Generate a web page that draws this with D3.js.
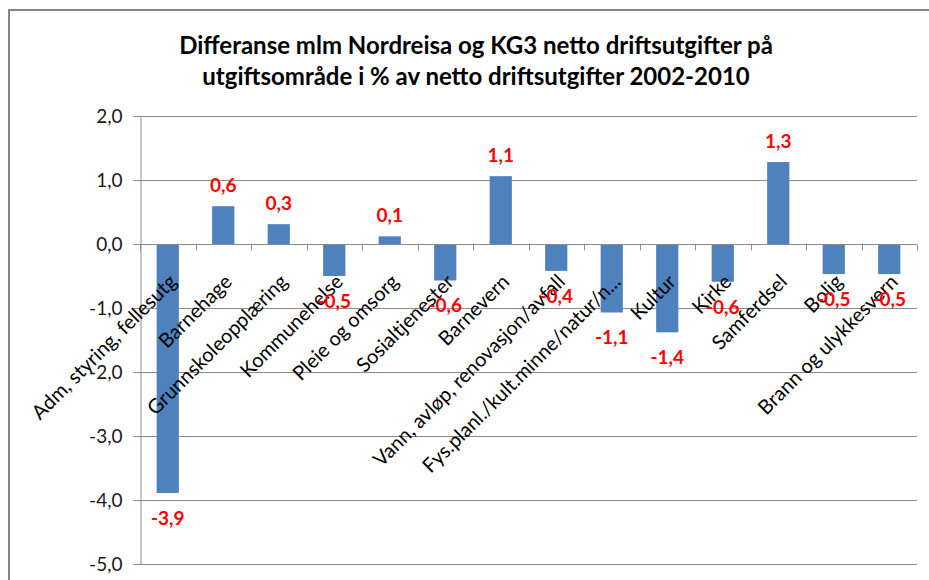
<!DOCTYPE html>
<html>
<head>
<meta charset="utf-8">
<script src="https://cdn.jsdelivr.net/npm/d3@7"></script>
<style>
  body { margin: 0; background: #fff; }
  svg { display: block; font-family: Lato, "Open Sans", sans-serif; }
</style>
</head>
<body>
<svg id="chart" width="929" height="580"></svg>
<script>
/******************** Data ********************/
var titleLines = [
    "Differanse mlm Nordreisa og KG3 netto driftsutgifter på",
    "utgiftsområde i % av netto driftsutgifter 2002-2010"
];

var categories = [
    "Adm, styring, fellesutg",
    "Barnehage",
    "Grunnskoleopplæring",
    "Kommunehelse",
    "Pleie og omsorg",
    "Sosialtjenester",
    "Barnevern",
    "Vann, avløp, renovasjon/avfall",
    "Fys.planl./kult.minne/natur/n...",
    "Kultur",
    "Kirke",
    "Samferdsel",
    "Bolig",
    "Brann og ulykkesvern"
];

var values = [-3.89, 0.59, 0.31, -0.50, 0.12, -0.57, 1.06, -0.42, -1.07, -1.38, -0.59, 1.28, -0.47, -0.47];

var yTicks = [2, 1, 0, -1, -2, -3, -4, -5];

/******************** Setup ********************/
var W = 929, H = 580;
var plot = {left: 140, right: 917, top: 116, bottom: 564};

var no = d3.formatLocale({decimal: ",", thousands: " ", grouping: [3], currency: ["", " kr"], minus: "-"});
var fmt = no.format(".1f");

var svg = d3.select("#chart");

svg.append("rect").attr("width", W).attr("height", H).attr("fill", "#fff");

// chart border (runs off the right / bottom of the picture)
svg.append("rect")
    .attr("x", 9).attr("y", 10)
    .attr("width", W + 20).attr("height", H + 20)
    .attr("fill", "none")
    .attr("stroke", "#868686")
    .attr("stroke-width", 2);

/******************** Title ********************/
svg.append("g").selectAll("text")
    .data(titleLines)
    .join("text")
    .attr("x", 476)
    .attr("y", function(d, i){ return 54 + i * 31; })
    .attr("text-anchor", "middle")
    .style("font-size", "24px")
    .style("font-weight", "bold")
    .attr("fill", "#000")
    .text(function(d){ return d; });

/******************** Scales ********************/
var x = d3.scaleBand()
    .domain(categories)
    .range([plot.left, plot.right])
    .paddingInner(0.6)
    .paddingOuter(0.3);

var y = d3.scaleLinear()
    .domain([-5, 2])
    .range([plot.bottom, plot.top]);

/******************** Grid + y axis ********************/
svg.append("g").selectAll("line")
    .data(yTicks)
    .join("line")
    .attr("x1", plot.left).attr("x2", plot.right)
    .attr("y1", function(d){ return Math.round(y(d)) + 0.5; })
    .attr("y2", function(d){ return Math.round(y(d)) + 0.5; })
    .attr("stroke", "#8c8c8c")
    .attr("stroke-width", 1);

var yAxis = svg.append("g")
    .attr("transform", "translate(" + (plot.left + 0.5) + ",0)")
    .call(d3.axisLeft(y).tickValues(yTicks).tickFormat(fmt).tickSizeInner(7).tickSizeOuter(0).tickPadding(11));

yAxis.selectAll("path, line").attr("stroke", "#8c8c8c");
yAxis.selectAll("text")
    .style("font-size", "19px")
    .style("font-family", "Lato, sans-serif")
    .attr("fill", "#1a1a1a");

/******************** Bars ********************/
svg.append("g").selectAll("rect")
    .data(values)
    .join("rect")
    .attr("x", function(d, i){ return x(categories[i]); })
    .attr("width", x.bandwidth())
    .attr("y", function(d){ return y(Math.max(0, d)); })
    .attr("height", function(d){ return Math.abs(y(d) - y(0)); })
    .attr("fill", "#4f81bd");

/******************** X axis (at zero) ********************/
var zeroY = Math.round(y(0)) + 0.5;
var step = x.step();
var bounds = d3.range(categories.length + 1);

svg.append("line")
    .attr("x1", plot.left).attr("x2", plot.right)
    .attr("y1", zeroY).attr("y2", zeroY)
    .attr("stroke", "#8c8c8c");

svg.append("g").selectAll("line")
    .data(bounds)
    .join("line")
    .attr("x1", function(i){ return Math.round(plot.left + i * step) + 0.5; })
    .attr("x2", function(i){ return Math.round(plot.left + i * step) + 0.5; })
    .attr("y1", zeroY).attr("y2", zeroY + 6)
    .attr("stroke", "#8c8c8c");

// category labels, rotated
svg.append("g").selectAll("text")
    .data(categories)
    .join("text")
    .attr("transform", function(d){
        var cx = x(d) + x.bandwidth() / 2;
        return "translate(" + (cx + 10) + "," + (y(0) + 39) + ") rotate(-45)";
    })
    .attr("text-anchor", "end")
    .style("font-size", "20px")
    .attr("fill", "#000")
    .text(function(d){ return d; });

/******************** Data labels ********************/
svg.append("g").selectAll("text")
    .data(values)
    .join("text")
    .attr("x", function(d, i){ return x(categories[i]) + x.bandwidth() / 2; })
    .attr("y", function(d){ return d >= 0 ? y(d) - 14 : y(d) + 32; })
    .attr("text-anchor", "middle")
    .style("font-size", "19px")
    .style("font-weight", "bold")
    .attr("fill", "#ff0000")
    .text(function(d){ return fmt(d); });
</script>
</body>
</html>
